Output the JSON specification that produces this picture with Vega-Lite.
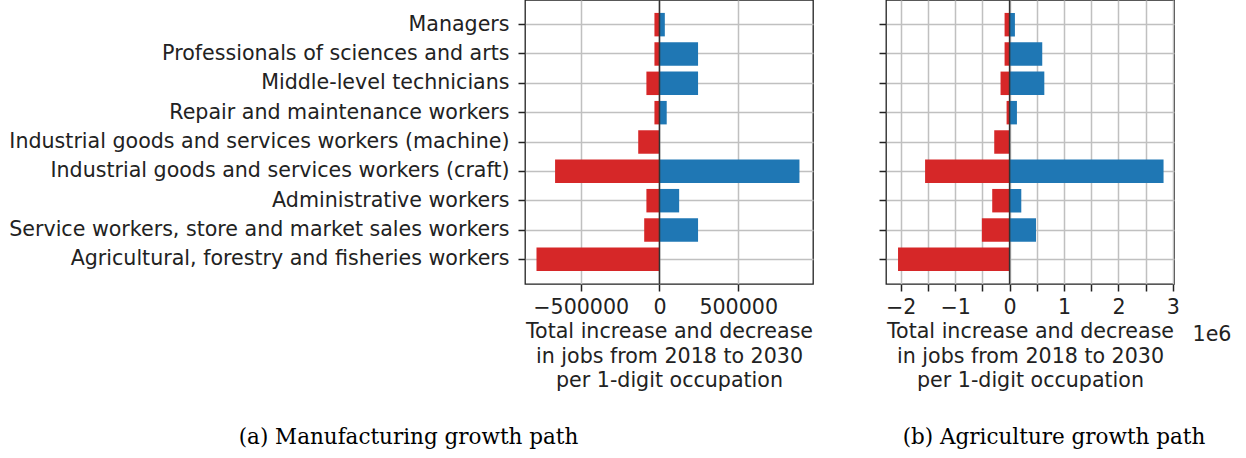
{
  "$schema": "https://vega.github.io/schema/vega-lite/v6.json",
  "padding": {"left": 8, "top": -2, "right": 5, "bottom": 5},
  "background": "white",
  "spacing": 63,
  "config": {
    "font": "DejaVu Sans",
    "view": {"stroke": "#222222", "strokeWidth": 1.3},
    "axis": {
      "domain": false,
      "grid": true,
      "gridColor": "#c0c0c0",
      "gridWidth": 1.5,
      "tickColor": "#222222",
      "tickSize": 7,
      "tickWidth": 1.5,
      "labelFont": "DejaVu Sans",
      "labelFontSize": 20.6,
      "labelColor": "#222222",
      "labelLimit": 700,
      "titleFont": "DejaVu Sans",
      "titleFontSize": 20.6,
      "titleFontWeight": "normal",
      "titleColor": "#222222"
    }
  },
  "datasets": {
    "manufacturing": [
      {"occupation": "Managers", "type": "decrease", "jobs": -32000},
      {"occupation": "Managers", "type": "increase", "jobs": 34000},
      {"occupation": "Professionals of sciences and arts", "type": "decrease", "jobs": -32000},
      {"occupation": "Professionals of sciences and arts", "type": "increase", "jobs": 245000},
      {"occupation": "Middle-level technicians", "type": "decrease", "jobs": -83000},
      {"occupation": "Middle-level technicians", "type": "increase", "jobs": 245000},
      {"occupation": "Repair and maintenance workers", "type": "decrease", "jobs": -32000},
      {"occupation": "Repair and maintenance workers", "type": "increase", "jobs": 46000},
      {"occupation": "Industrial goods and services workers (machine)", "type": "decrease", "jobs": -135000},
      {"occupation": "Industrial goods and services workers (machine)", "type": "increase", "jobs": 0},
      {"occupation": "Industrial goods and services workers (craft)", "type": "decrease", "jobs": -663000},
      {"occupation": "Industrial goods and services workers (craft)", "type": "increase", "jobs": 889000},
      {"occupation": "Administrative workers", "type": "decrease", "jobs": -83000},
      {"occupation": "Administrative workers", "type": "increase", "jobs": 125000},
      {"occupation": "Service workers, store and market sales workers", "type": "decrease", "jobs": -97000},
      {"occupation": "Service workers, store and market sales workers", "type": "increase", "jobs": 245000},
      {"occupation": "Agricultural, forestry and fisheries workers", "type": "decrease", "jobs": -781000},
      {"occupation": "Agricultural, forestry and fisheries workers", "type": "increase", "jobs": 0}
    ],
    "agriculture": [
      {"occupation": "Managers", "type": "decrease", "jobs": -92000},
      {"occupation": "Managers", "type": "increase", "jobs": 98000},
      {"occupation": "Professionals of sciences and arts", "type": "decrease", "jobs": -92000},
      {"occupation": "Professionals of sciences and arts", "type": "increase", "jobs": 600000},
      {"occupation": "Middle-level technicians", "type": "decrease", "jobs": -166000},
      {"occupation": "Middle-level technicians", "type": "increase", "jobs": 638000},
      {"occupation": "Repair and maintenance workers", "type": "decrease", "jobs": -55000},
      {"occupation": "Repair and maintenance workers", "type": "increase", "jobs": 135000},
      {"occupation": "Industrial goods and services workers (machine)", "type": "decrease", "jobs": -282000},
      {"occupation": "Industrial goods and services workers (machine)", "type": "increase", "jobs": 0},
      {"occupation": "Industrial goods and services workers (craft)", "type": "decrease", "jobs": -1552000},
      {"occupation": "Industrial goods and services workers (craft)", "type": "increase", "jobs": 2828000},
      {"occupation": "Administrative workers", "type": "decrease", "jobs": -319000},
      {"occupation": "Administrative workers", "type": "increase", "jobs": 215000},
      {"occupation": "Service workers, store and market sales workers", "type": "decrease", "jobs": -509000},
      {"occupation": "Service workers, store and market sales workers", "type": "increase", "jobs": 485000},
      {"occupation": "Agricultural, forestry and fisheries workers", "type": "decrease", "jobs": -2049000},
      {"occupation": "Agricultural, forestry and fisheries workers", "type": "increase", "jobs": 0}
    ],
    "zero": [{"jobs": 0}]
  },
  "hconcat": [
    {
      "width": 288,
      "height": 284,
      "title": {"text": "(a) Manufacturing growth path", "orient": "bottom", "frame": "group", "anchor": "middle", "dx": -260.5, "offset": 36, "font": "DejaVu Serif", "fontSize": 21.5, "fontWeight": "normal", "color": "#000000"},
      "layer": [
        {
          "data": {"name": "manufacturing"},
          "mark": {"type": "bar"},
          "encoding": {
            "y": {"field": "occupation", "type": "nominal", "sort": null,
                  "scale": {"domain": ["Managers", "Professionals of sciences and arts", "Middle-level technicians", "Repair and maintenance workers", "Industrial goods and services workers (machine)", "Industrial goods and services workers (craft)", "Administrative workers", "Service workers, store and market sales workers", "Agricultural, forestry and fisheries workers"], "paddingInner": 0.2, "paddingOuter": 0.44},
                  "axis": {"title": null, "labelPadding": 9}},
            "x": {"field": "jobs", "type": "quantitative",
                  "scale": {"domain": [-854000, 975000], "nice": false, "zero": false},
                  "axis": {"values": [-500000, 0, 500000], "format": "d", "labelPadding": 6, "titlePadding": 4, "titleLineHeight": 24.5,
                           "title": ["Total increase and decrease", "in jobs from 2018 to 2030", "per 1-digit occupation"]}},
            "color": {"field": "type", "type": "nominal", "scale": {"domain": ["decrease", "increase"], "range": ["#d62728", "#1f77b4"]}, "legend": null}
          }
        },
        {
          "data": {"name": "zero"},
          "mark": {"type": "rule", "color": "#333333", "strokeWidth": 1.5},
          "encoding": {"x": {"field": "jobs", "type": "quantitative", "scale": {"domain": [-854000, 975000], "nice": false, "zero": false}}}
        }
      ]
    },
    {
      "width": 288,
      "height": 284,
      "title": {"text": "(b) Agriculture growth path", "orient": "bottom", "frame": "group", "anchor": "middle", "dx": 24, "offset": 36, "font": "DejaVu Serif", "fontSize": 21.5, "fontWeight": "normal", "color": "#000000"},
      "resolve": {"axis": {"x": "independent"}},
      "layer": [
        {
          "data": {"name": "agriculture"},
          "mark": {"type": "bar"},
          "encoding": {
            "y": {"field": "occupation", "type": "nominal", "sort": null,
                  "scale": {"domain": ["Managers", "Professionals of sciences and arts", "Middle-level technicians", "Repair and maintenance workers", "Industrial goods and services workers (machine)", "Industrial goods and services workers (craft)", "Administrative workers", "Service workers, store and market sales workers", "Agricultural, forestry and fisheries workers"], "paddingInner": 0.2, "paddingOuter": 0.44},
                  "axis": {"title": null, "labels": false}},
            "x": {"field": "jobs", "type": "quantitative",
                  "scale": {"domain": [-2270000, 3020000], "nice": false, "zero": false},
                  "axis": {"values": [-2000000, -1500000, -1000000, -500000, 0, 500000, 1000000, 1500000, 2000000, 2500000, 3000000],
                           "labelExpr": "datum.value % 1000000 === 0 ? format(datum.value / 1000000, 'd') : ''",
                           "labelPadding": 6, "titlePadding": 4, "titleLineHeight": 24.5,
                           "title": ["Total increase and decrease", "in jobs from 2018 to 2030", "per 1-digit occupation"]}},
            "color": {"field": "type", "type": "nominal", "scale": {"domain": ["decrease", "increase"], "range": ["#d62728", "#1f77b4"]}, "legend": null}
          }
        },
        {
          "data": {"name": "zero"},
          "mark": {"type": "rule", "color": "#333333", "strokeWidth": 1.5},
          "encoding": {"x": {"field": "jobs", "type": "quantitative", "scale": {"domain": [-2270000, 3020000], "nice": false, "zero": false},
                             "axis": {"orient": "bottom", "labels": false, "ticks": false, "domain": false, "grid": false,
                                      "title": "1e6", "titleX": 325.5, "titleY": 50, "titleAlign": "center", "titleBaseline": "middle", "titleAngle": 0}}}
        }
      ]
    }
  ]
}
